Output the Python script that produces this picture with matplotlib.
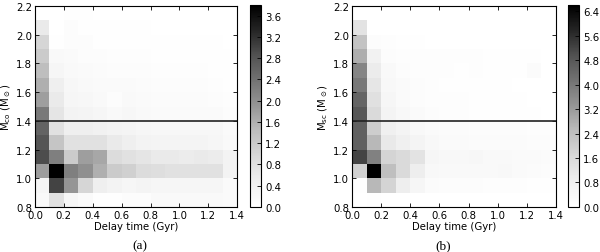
import numpy as np
import matplotlib
matplotlib.use("Agg")
import matplotlib.pyplot as plt

x_edges = [0.0, 0.1, 0.2, 0.3, 0.4, 0.5, 0.6, 0.7, 0.8, 0.9, 1.0, 1.1, 1.2, 1.3, 1.4]
y_edges = [0.8, 0.9, 1.0, 1.1, 1.2, 1.3, 1.4, 1.5, 1.6, 1.7, 1.8, 1.9, 2.0, 2.1, 2.2]

# rows: mass bins from 0.8 (bottom) to 2.2 (top); columns: delay time bins 0.0..1.4
hist_a = [
    [0.20, 0.80, 0.30, 0.15, 0.05, 0.05, 0.10, 0.10, 0.20, 0.20, 0.20, 0.20, 0.20, 0.15],
    [0.30, 3.00, 1.90, 1.00, 0.50, 0.40, 0.30, 0.35, 0.30, 0.30, 0.30, 0.30, 0.30, 0.15],
    [1.80, 3.80, 2.20, 2.00, 1.60, 1.20, 1.10, 0.90, 0.85, 0.80, 0.80, 0.80, 0.80, 0.40],
    [2.90, 2.20, 1.20, 1.80, 1.70, 0.90, 0.80, 0.70, 0.60, 0.60, 0.55, 0.60, 0.55, 0.40],
    [2.80, 1.30, 0.80, 0.80, 0.80, 0.60, 0.50, 0.40, 0.35, 0.35, 0.35, 0.35, 0.30, 0.20],
    [2.60, 0.80, 0.50, 0.50, 0.45, 0.40, 0.35, 0.30, 0.25, 0.25, 0.25, 0.25, 0.25, 0.15],
    [2.30, 0.70, 0.40, 0.35, 0.30, 0.20, 0.25, 0.20, 0.15, 0.15, 0.15, 0.15, 0.15, 0.10],
    [1.80, 0.60, 0.30, 0.25, 0.20, 0.10, 0.20, 0.15, 0.12, 0.12, 0.12, 0.12, 0.10, 0.08],
    [1.60, 0.50, 0.25, 0.20, 0.15, 0.15, 0.15, 0.12, 0.10, 0.10, 0.10, 0.10, 0.08, 0.05],
    [1.40, 0.30, 0.20, 0.15, 0.12, 0.10, 0.10, 0.10, 0.08, 0.08, 0.08, 0.08, 0.05, 0.05],
    [1.20, 0.20, 0.15, 0.10, 0.10, 0.08, 0.08, 0.08, 0.05, 0.05, 0.05, 0.05, 0.05, 0.03],
    [1.00, 0.05, 0.10, 0.10, 0.05, 0.05, 0.05, 0.05, 0.03, 0.03, 0.03, 0.03, 0.03, 0.02],
    [0.60, 0.00, 0.10, 0.05, 0.05, 0.03, 0.03, 0.03, 0.02, 0.02, 0.02, 0.02, 0.02, 0.01],
    [0.00, 0.00, 0.05, 0.05, 0.02, 0.02, 0.02, 0.01, 0.01, 0.01, 0.01, 0.01, 0.01, 0.00],
]

hist_b = [
    [0.05, 0.10, 0.05, 0.03, 0.02, 0.02, 0.02, 0.02, 0.02, 0.02, 0.02, 0.02, 0.02, 0.02],
    [0.10, 2.60, 1.80, 0.90, 0.50, 0.25, 0.20, 0.20, 0.20, 0.15, 0.15, 0.15, 0.10, 0.10],
    [1.90, 6.60, 2.40, 1.60, 0.90, 0.40, 0.35, 0.35, 0.35, 0.35, 0.40, 0.30, 0.25, 0.20],
    [5.20, 3.80, 1.80, 1.60, 1.30, 0.50, 0.40, 0.40, 0.45, 0.35, 0.35, 0.30, 0.30, 0.25],
    [4.60, 2.60, 1.10, 0.80, 0.60, 0.40, 0.30, 0.30, 0.25, 0.25, 0.25, 0.25, 0.20, 0.20],
    [4.60, 2.00, 0.80, 0.60, 0.40, 0.30, 0.25, 0.25, 0.20, 0.20, 0.20, 0.20, 0.15, 0.15],
    [4.80, 1.60, 0.60, 0.40, 0.30, 0.20, 0.15, 0.15, 0.10, 0.10, 0.10, 0.10, 0.08, 0.05],
    [4.50, 1.40, 0.50, 0.30, 0.20, 0.15, 0.12, 0.12, 0.10, 0.08, 0.08, 0.08, 0.05, 0.05],
    [4.00, 1.20, 0.40, 0.30, 0.20, 0.15, 0.10, 0.10, 0.10, 0.08, 0.08, 0.05, 0.05, 0.05],
    [3.70, 1.00, 0.35, 0.20, 0.15, 0.15, 0.12, 0.10, 0.15, 0.10, 0.10, 0.08, 0.25, 0.05],
    [2.80, 0.70, 0.20, 0.15, 0.12, 0.15, 0.15, 0.12, 0.12, 0.10, 0.10, 0.10, 0.08, 0.05],
    [2.30, 0.20, 0.15, 0.10, 0.10, 0.05, 0.05, 0.05, 0.03, 0.03, 0.03, 0.03, 0.02, 0.02],
    [1.30, 0.05, 0.05, 0.03, 0.02, 0.02, 0.02, 0.02, 0.01, 0.01, 0.01, 0.01, 0.01, 0.01],
    [0.00, 0.00, 0.00, 0.00, 0.00, 0.00, 0.00, 0.00, 0.00, 0.00, 0.00, 0.00, 0.00, 0.00],
]

vmax_a = 3.8
vmax_b = 6.6
cbar_ticks_a = [0.0, 0.4, 0.8, 1.2, 1.6, 2.0, 2.4, 2.8, 3.2, 3.6]
cbar_ticks_b = [0.0, 0.8, 1.6, 2.4, 3.2, 4.0, 4.8, 5.6, 6.4]
x_ticks = [0.0, 0.2, 0.4, 0.6, 0.8, 1.0, 1.2, 1.4]
y_ticks = [0.8, 1.0, 1.2, 1.4, 1.6, 1.8, 2.0, 2.2]
m_ch = 1.4

plt.rcParams['font.family'] = ['DejaVu Sans']
plt.rcParams['font.size'] = 7.3
plt.rcParams['xtick.direction'] = 'in'
plt.rcParams['ytick.direction'] = 'in'

fig = plt.figure(figsize=(6.0, 2.53), dpi=100)

panels = [
    dict(data=hist_a, vmax=vmax_a, cticks=cbar_ticks_a,
         ax=[0.0583, 0.178, 0.337, 0.794], cax=[0.4167, 0.178, 0.0183, 0.798],
         ylabel=r'M$_{\rm co}$ (M$_\odot$)', cap='(a)', capx=0.233),
    dict(data=hist_b, vmax=vmax_b, cticks=cbar_ticks_b,
         ax=[0.5867, 0.178, 0.340, 0.794], cax=[0.9467, 0.178, 0.0183, 0.798],
         ylabel=r'M$_{\rm sc}$ (M$_\odot$)', cap='(b)', capx=0.738),
]

for p in panels:
    ax = fig.add_axes(p['ax'])
    mesh = ax.pcolormesh(x_edges, y_edges, np.array(p['data']), cmap='Greys',
                         vmin=0, vmax=p['vmax'])
    ax.axhline(m_ch, color='#222222', lw=1.2)
    ax.set_xlim(0, 1.4)
    ax.set_ylim(0.8, 2.2)
    ax.set_xticks(x_ticks)
    ax.set_yticks(y_ticks)
    ax.set_xticklabels([f'{v:.1f}' for v in x_ticks])
    ax.set_yticklabels([f'{v:.1f}' for v in y_ticks])
    ax.tick_params(top=True, right=True, length=3, width=0.6, pad=2)
    for s in ax.spines.values():
        s.set_linewidth(0.8)
    ax.set_xlabel('Delay time (Gyr)', labelpad=1)
    ax.set_ylabel(p['ylabel'], labelpad=2)
    cax = fig.add_axes(p['cax'])
    cb = fig.colorbar(mesh, cax=cax, ticks=p['cticks'])
    cb.ax.set_yticklabels([f'{v:.1f}' for v in p['cticks']])
    cb.ax.tick_params(length=3, width=0.6, pad=3, direction='in')
    cb.outline.set_linewidth(0.8)
    fig.text(p['capx'], 0.028, p['cap'], ha='center', va='center',
             family='Liberation Serif', fontsize=9.5)

fig.savefig('out.png', dpi=100)
